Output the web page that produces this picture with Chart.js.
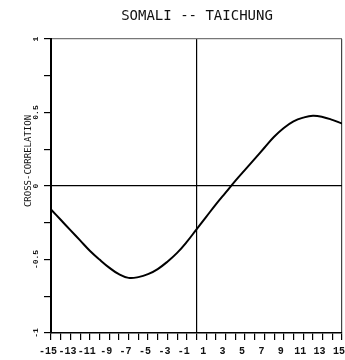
<!DOCTYPE html>
<html>
<head>
<meta charset="utf-8">
<script src="https://cdn.jsdelivr.net/npm/chart.js@4.4.1/dist/chart.umd.min.js"></script>
<style>
  body { margin: 0; background: #fff; }
  #wrap { width: 345px; height: 360px; }
</style>
</head>
<body>
<div id="wrap"><canvas id="myChart" width="345" height="360"></canvas></div>
<script>
"use strict"
// Werte
const titleText = "SOMALI -- TAICHUNG";
const yTitle = "CROSS-CORRELATION";
const lags = [-15, -14, -13, -12, -11, -10, -9, -8, -7, -6, -5, -4, -3, -2, -1, 0,
              1, 2, 3, 4, 5, 6, 7, 8, 9, 10, 11, 12, 13, 14, 15];
const corr = [-0.16, -0.23, -0.30, -0.37, -0.44, -0.50, -0.555, -0.60, -0.625, -0.62, -0.60,
              -0.565, -0.515, -0.455, -0.38, -0.295, -0.21, -0.125, -0.045, 0.035, 0.11, 0.185,
              0.26, 0.335, 0.395, 0.44, 0.465, 0.478, 0.47, 0.45, 0.425];
const xTickLabels = [-15, -13, -11, -9, -7, -5, -3, -1, 1, 3, 5, 7, 9, 11, 13, 15];
const yTickValues = [-1, -0.5, 0, 0.5, 1];
const yTickLabels = ["-1", "-0.5", "0", "0.5", "1"];

let points = [];
for (let i = 0; i < lags.length; i++) {
    points.push({x: lags[i], y: corr[i]});
}

// Titel, gedrehte y-Beschriftung und Achsentitel selbst zeichnen
const textPlugin = {
    id: 'texte',
    afterDraw(chart) {
        const ctx = chart.ctx;
        const ys = chart.scales.y;
        ctx.save();
        ctx.fillStyle = '#111';
        ctx.textAlign = 'center';
        ctx.textBaseline = 'middle';
        ctx.font = '14px "DejaVu Sans Mono"';
        ctx.fillText(titleText, 197, 16);

        ctx.font = 'bold 8px "Liberation Mono"';
        for (let i = 0; i < yTickValues.length; i++) {
            ctx.save();
            ctx.translate(36, ys.getPixelForValue(yTickValues[i]));
            ctx.rotate(-Math.PI / 2);
            ctx.fillText(yTickLabels[i], 0, 0);
            ctx.restore();
        }
        ctx.font = '9px "DejaVu Sans Mono"';
        ctx.translate(29, 161);
        ctx.rotate(-Math.PI / 2);
        ctx.fillText(yTitle, 0, 0);
        ctx.restore();
    }
};

const config = {
    type: 'line',
    data: {
        datasets: [{
            data: points,
            borderColor: '#000',
            borderWidth: 2,
            pointRadius: 0,
            tension: 0.4,
            fill: false
        }]
    },
    options: {
        responsive: false,
        animation: false,
        layout: { padding: { left: 0, top: 39, right: 3, bottom: 0 } },
        plugins: { legend: { display: false }, tooltip: { enabled: false } },
        scales: {
            x: {
                type: 'linear',
                min: -15, max: 15,
                // kein Platz fuer ueberstehende Beschriftung reservieren
                afterFit: s => { s.height = 27; s.paddingLeft = 0; s.paddingRight = 0 },
                border: { color: '#000', width: 1.5 },
                grid: {
                    // nur Nulllinie und rechter Rand
                    color: c => c.tick && c.tick.value === 0 ? '#000' : (c.tick && c.tick.value === 15 ? '#444' : 'transparent'),
                    tickColor: '#000',
                    tickLength: 7,
                    lineWidth: 1.2
                },
                ticks: {
                    stepSize: 1,
                    autoSkip: false,
                    maxRotation: 0,
                    padding: 5,
                    labelOffset: -3,
                    color: '#111',
                    font: { family: 'Liberation Mono', size: 10, weight: 'bold' },
                    callback: v => xTickLabels.includes(v) ? String(v) : ''
                }
            },
            y: {
                min: -1, max: 1,
                afterFit: s => { s.width = 51 },
                border: { color: '#000', width: 2 },
                grid: {
                    color: c => c.tick && c.tick.value === 0 ? '#000' : (c.tick && c.tick.value === 1 ? '#777' : 'transparent'),
                    tickColor: '#000',
                    tickLength: 7,
                    lineWidth: 1.2
                },
                ticks: { stepSize: 0.25, display: false }
            }
        }
    },
    plugins: [textPlugin]
};

new Chart(document.getElementById('myChart'), config);
</script>
</body>
</html>
